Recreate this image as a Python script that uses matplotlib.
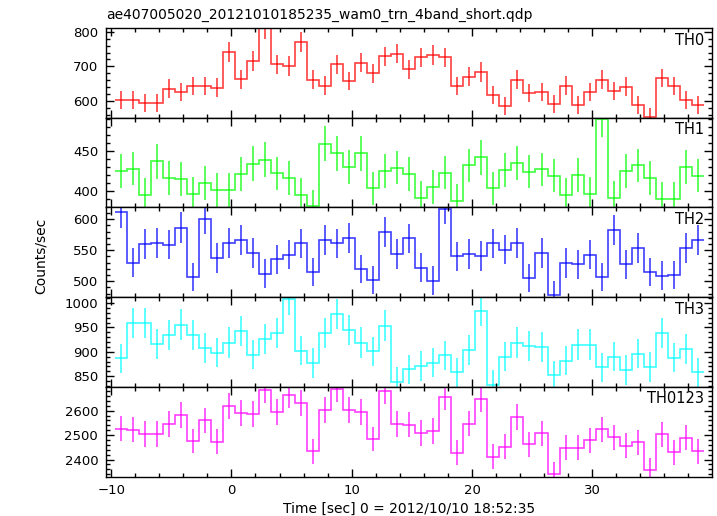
import numpy as np
import matplotlib
matplotlib.use("Agg")
import matplotlib.pyplot as plt
from matplotlib.ticker import MultipleLocator

# time bin centres [sec], 1 s bins
time = np.arange(-9, 40) - 0.22

th0 = [603, 602, 593, 593, 635, 626, 643, 643, 638, 742,
       662, 715, 810, 706, 701, 771, 661, 644, 706, 658,
       711, 680, 729, 737, 691, 726, 733, 726, 643, 670,
       684, 617, 586, 661, 622, 625, 592, 644, 588, 626,
       661, 629, 641, 589, 554, 666, 643, 602, 588]
th0_err = [26, 26, 26, 26, 27, 27, 27, 27, 27, 29,
           27, 28, 30, 28, 28, 29, 27, 27, 28, 27,
           28, 27, 28, 28, 28, 28, 28, 28, 27, 27,
           28, 26, 26, 27, 26, 26, 26, 27, 26, 26,
           27, 26, 27, 26, 25, 27, 27, 26, 26]

th1 = [425, 428, 395, 437, 416, 415, 396, 410, 401, 401,
       421, 434, 439, 422, 416, 395, 381, 459, 447, 430,
       447, 403, 425, 429, 421, 391, 405, 423, 387, 432,
       442, 403, 426, 435, 424, 427, 419, 395, 420, 396,
       491, 391, 425, 432, 416, 390, 390, 430, 419]
th1_err = [21, 21, 21, 22, 21, 21, 21, 21, 21, 21,
           21, 22, 22, 21, 21, 21, 20, 22, 22, 21,
           22, 21, 21, 21, 21, 21, 21, 21, 21, 21,
           22, 21, 21, 22, 21, 21, 21, 21, 21, 21,
           23, 21, 21, 21, 21, 21, 21, 21, 21]

th2 = [611, 530, 560, 562, 559, 586, 507, 601, 537, 562,
       567, 545, 512, 535, 543, 561, 515, 567, 561, 570,
       520, 502, 579, 544, 569, 522, 501, 617, 540, 544,
       541, 561, 551, 562, 505, 545, 478, 529, 527, 543,
       507, 583, 527, 553, 515, 509, 510, 553, 567]
th2_err = [25, 24, 24, 24, 24, 25, 23, 25, 24, 24,
           24, 24, 23, 24, 24, 24, 23, 24, 24, 24,
           23, 23, 24, 24, 24, 23, 23, 25, 24, 24,
           24, 24, 24, 24, 23, 24, 23, 24, 24, 24,
           23, 24, 24, 24, 23, 23, 23, 24, 24]

th3 = [887, 959, 959, 916, 935, 956, 934, 908, 898, 919,
       943, 894, 926, 938, 1008, 902, 877, 939, 977, 945,
       919, 901, 954, 839, 864, 871, 878, 893, 858, 904,
       984, 833, 890, 919, 912, 910, 852, 882, 915, 915,
       868, 890, 863, 896, 869, 938, 888, 906, 858]
th3_err = [30, 31, 31, 31, 31, 31, 31, 30, 30, 31,
           31, 30, 31, 31, 32, 30, 30, 31, 31, 31,
           31, 30, 31, 29, 30, 30, 30, 30, 30, 30,
           32, 29, 30, 31, 30, 30, 30, 30, 31, 31,
           30, 30, 30, 30, 30, 31, 30, 30, 30]

th0123 = [2526, 2522, 2505, 2505, 2546, 2581, 2476, 2560, 2473, 2619,
          2591, 2587, 2685, 2596, 2664, 2630, 2433, 2604, 2689, 2601,
          2593, 2484, 2682, 2546, 2543, 2508, 2516, 2657, 2428, 2547,
          2647, 2412, 2453, 2574, 2462, 2507, 2339, 2449, 2449, 2478,
          2524, 2492, 2457, 2470, 2357, 2503, 2430, 2489, 2433]
th0123_err = [52, 52, 52, 52, 52, 53, 51, 52, 51, 53,
              53, 53, 54, 53, 54, 53, 51, 53, 54, 53,
              53, 51, 54, 52, 52, 52, 52, 53, 51, 52,
              53, 51, 51, 52, 51, 52, 50, 51, 51, 51,
              52, 51, 51, 51, 50, 52, 51, 51, 51]

names = ["TH0", "TH1", "TH2", "TH3", "TH0123"]
series = [th0, th1, th2, th3, th0123]
errors = [th0_err, th1_err, th2_err, th3_err, th0123_err]
colors = ["#ff0000", "#00ff00", "#0000ff", "#00ffff", "#ff00ff"]
ylims = [(551, 811), (379, 492), (474, 619), (828, 1012), (2330, 2697)]
majors = [100, 50, 50, 50, 100]
minors = [20, 10, 10, 10, 20]

plt.rcParams['font.family'] = 'DejaVu Sans'
plt.rcParams['font.size'] = 9.5

fig, axes = plt.subplots(5, 1, sharex=True, figsize=(7.17, 5.16), dpi=100)
fig.subplots_adjust(left=0.148, right=0.9926, top=0.9457, bottom=0.0762, hspace=0)

edges = np.append(time - 0.5, time[-1] + 0.5)

for ax, name, y, e, c, yl, mj, mn in zip(axes, names, series, errors, colors,
                                          ylims, majors, minors):
    ax.stairs(y, edges, baseline=None, color=c, lw=1.2, alpha=0.75)
    ax.errorbar(time, y, yerr=e, fmt='none', ecolor=c, elinewidth=1.2,
                capsize=0, alpha=0.75)
    ax.set_ylim(*yl)
    ax.set_xlim(-10.42, 39.93)
    ax.yaxis.set_major_locator(MultipleLocator(mj))
    ax.yaxis.set_minor_locator(MultipleLocator(mn))
    ax.xaxis.set_major_locator(MultipleLocator(10))
    ax.xaxis.set_minor_locator(MultipleLocator(2))
    ax.tick_params(which='both', direction='in', top=True, right=True,
                   width=1, colors='black', labelsize=9.5)
    ax.tick_params(axis='y', which='major', length=6, pad=5.7)
    ax.tick_params(axis='y', which='minor', length=3)
    ax.tick_params(axis='x', which='major', length=5.5, pad=5)
    ax.tick_params(axis='x', which='minor', length=3)
    for s in ax.spines.values():
        s.set_linewidth(1)
    ax.text(0.987, 0.95, name, transform=ax.transAxes, ha='right', va='top',
            fontsize=10.5)

axes[0].set_title("ae407005020_20121010185235_wam0_trn_4band_short.qdp",
                  loc='left', fontsize=10, pad=6.5)
axes[-1].set_xlabel("Time [sec] 0 = 2012/10/10 18:52:35", fontsize=10, labelpad=3.5)
fig.text(0.057, 0.505, "Counts/sec", rotation=90, ha='center', va='center',
         fontsize=10)

fig.savefig("out.png", dpi=100)
